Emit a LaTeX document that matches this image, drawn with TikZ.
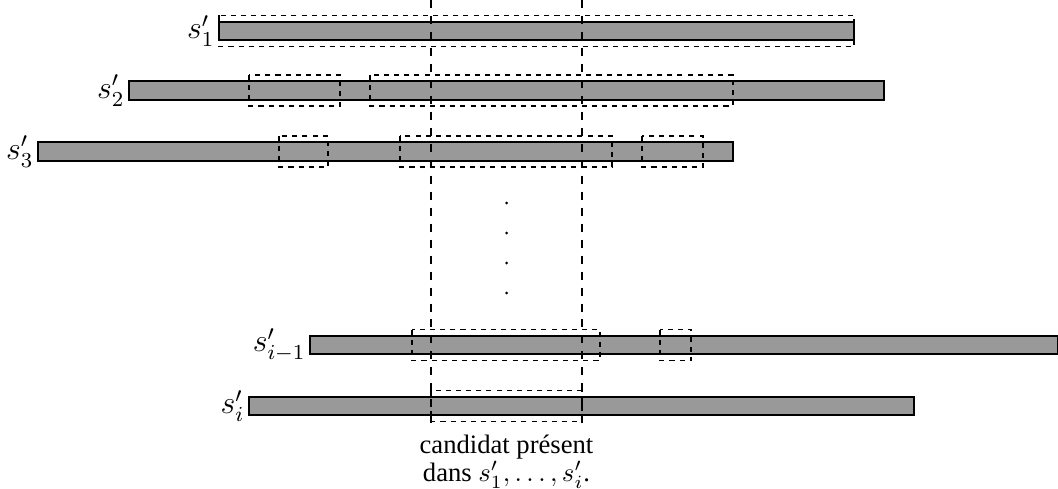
\documentclass[tikz,border=0pt]{standalone}
\usepackage[no-math]{fontspec}
\setmainfont{Liberation Serif}
\definecolor{barfill}{gray}{0.6}
\begin{document}
\begin{tikzpicture}[x=0.3756pt,y=-0.3756pt,
    seqbar/.style={draw=black,fill=barfill,line width=0.4pt},
    window/.style={draw=black,line width=0.4pt,dash pattern=on 1.9pt off 1.9pt},
    guide/.style={draw=black,line width=0.4pt,dashed},
    seqlabel/.style={anchor=east,inner sep=1.5pt,font=\large}]
    \useasboundingbox (0,0) rectangle (1058,489);
    % sequences
    \draw[seqbar] (219,22) rectangle (854,40);
    \draw[seqbar] (129,81) rectangle (884,100);
    \draw[seqbar] (38,142) rectangle (733,161);
    \draw[seqbar] (310,336) rectangle (1057.8,354);
    \draw[seqbar] (249,397) rectangle (914,415);
    \node[seqlabel] (l1) at (219,31) {$s'_1$};
    \node[seqlabel] (l2) at (129,90.5) {$s'_2$};
    \node[seqlabel] (l3) at (38,151.5) {$s'_3$};
    \node[seqlabel] (lm) at (310,345) {$s'_{i-1}$};
    \node[seqlabel] (li) at (249,406) {$s'_i$};
    % occurrences
    \draw[window] (219,15.5) rectangle (854,46.5);
    \foreach \a/\b in {249/340,370/733}
        \draw[window] (\a,75) rectangle (\b,106);
    \foreach \a/\b in {279/328,400/612,642/703}
        \draw[window] (\a,136) rectangle (\b,167);
    \foreach \a/\b in {412/600,660/691}
        \draw[window] (\a,329.5) rectangle (\b,360.5);
    \draw[window] (431,390.5) rectangle (582,421.5);
    % candidate
    \coordinate (ca) at (431,0);
    \coordinate (cb) at (582,0);
    \coordinate (ea) at (431,426);
    \coordinate (eb) at (582,426);
    \draw[guide] (ca) -- (ea);
    \draw[guide] (cb) -- (eb);
    \foreach \y in {203,233,263,293}
        \fill (506.5,\y) circle (1.5);
    \node[anchor=north,inner sep=0pt,align=center,font=\fontsize{10}{8.6}\selectfont] (cand) at (506.5,434)
        {candidat présent\\dans $s'_1, \ldots, s'_i$.};
\end{tikzpicture}
\end{document}
